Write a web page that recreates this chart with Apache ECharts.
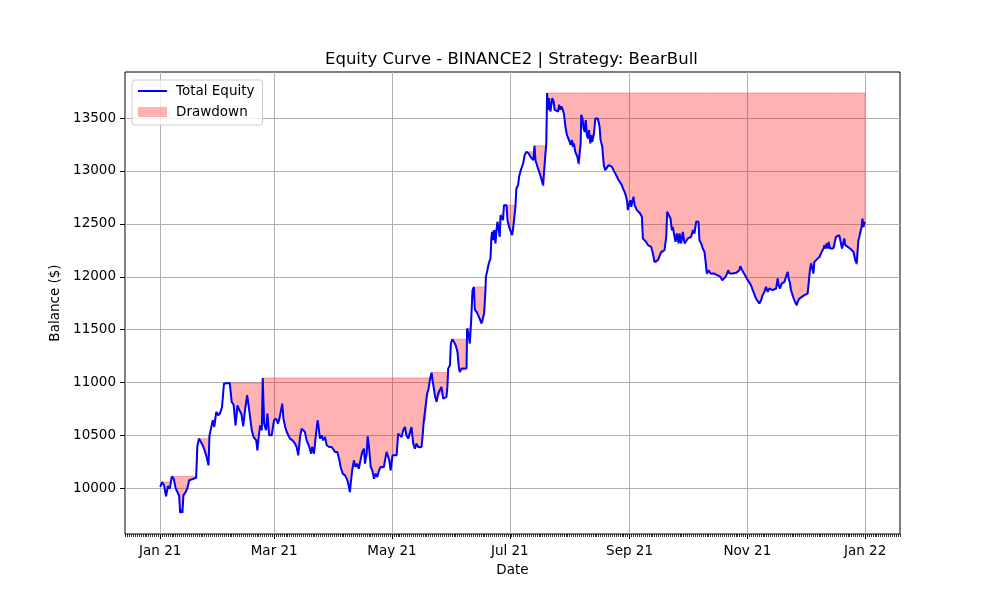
<!DOCTYPE html>
<html>
<head>
<meta charset="utf-8">
<title>Equity Curve</title>
<script src="https://cdn.jsdelivr.net/npm/echarts@6.0.0/dist/echarts.min.js"></script>
<style>
  html, body { margin: 0; padding: 0; background: #fff; }
  #chart { width: 1000px; height: 600px; }
</style>
</head>
<body>
<div id="chart"></div>
<script>
// days since 2021-01-01
var days = [
  0, 1, 2, 3, 4, 5, 6, 7, 8, 9,
  9.8, 10.3, 11, 11.5, 12, 13, 14, 15, 16, 18.6,
  19.2, 20, 21, 22, 23, 24, 25, 25.5, 26.3, 27.2,
  28, 29, 30, 31, 32, 33, 36, 37, 38, 39,
  40, 41, 42, 43, 44, 45, 46, 47.4, 48.3, 49.7,
  50.3, 50.8, 51.7, 52.6, 53.1, 53.8, 54.8, 55.5, 56.4, 57.7,
  58.9, 60, 61, 61.7, 63.2, 63.8, 64.7, 65.5, 66.4, 67.2,
  68.5, 69.8, 70.6, 71.5, 72.4, 73.2, 74.1, 74.9, 75.8, 77.2,
  78.1, 78.7, 79.6, 80.5, 81.5, 82, 82.7, 83.5, 84.4, 85.3,
  86.2, 87.5, 88.8, 89.6, 90.5, 91.7, 92.8, 93.4, 94.5, 95.7,
  96.6, 97.4, 98.2, 98.8, 99.4, 100.3, 101.1, 102, 102.8, 103.7,
  104.6, 105.5, 106, 106.9, 107.4, 108.1, 109, 109.8, 110.7, 111.5,
  112.4, 113.3, 114.1, 115, 115.8, 116.4, 117.2, 117.7, 118.6, 119.3,
  120.3, 122.4, 123.2, 124.1, 125, 125.8, 126.7, 127.5, 128.4, 129.3,
  130.1, 131, 131.9, 132.7, 133.6, 134.4, 135.3, 135.8, 136.5, 137.4,
  138.2, 138.8, 139.6, 140.5, 141, 141.7, 142.2, 143.1, 143.9, 144.8,
  145.6, 146.5, 148.2, 148.7, 149.1, 150, 150.5, 151.2, 152, 153,
  153.9, 154.6, 155.1, 156, 156.8, 158.6, 158.9, 159.6, 160.3, 161,
  161.7, 162.4, 162.9, 163.8, 164.6, 165.5, 166.3, 167.2, 167.7, 168.4,
  168.6, 169.2, 170.1, 171, 171.5, 171.8, 172.4, 172.9, 173.6, 174.1,
  174.6, 175.3, 175.8, 176.2, 177, 177.5, 178, 179.3, 179.8, 180.6,
  181.3, 182.2, 182.7, 183.2, 183.9, 184.4, 185.3, 185.8, 186.7, 187.9,
  188.7, 189.6, 190.8, 191.7, 192.5, 193.2, 193.8, 194.3, 194.8, 195.6,
  196.5, 197.3, 198.2, 198.7, 199.4, 199.9, 200.3, 200.8, 201.3, 202,
  202.5, 203, 203.7, 204.2, 205.1, 206, 206.5, 207.2, 207.7, 208.5,
  209.1, 209.8, 210.6, 211.5, 212, 212.5, 213.2, 213.7, 214.2, 214.9,
  216, 216.6, 217.2, 217.7, 218, 218.6, 219.2, 219.8, 220.3, 220.9,
  221.5, 222, 222.7, 223.2, 223.7, 224.6, 225.3, 226.6, 227.5, 228,
  228.9, 229.2, 229.7, 230.4, 231.3, 232.2, 233, 233.9, 234.7, 235.6,
  236.5, 237.3, 238.2, 239, 239.6, 240.4, 241, 241.8, 242.1, 242.7,
  243.4, 243.9, 244.4, 245.1, 245.6, 246.1, 246.8, 247.7, 248.5, 249.4,
  249.9, 250.8, 251.6, 252.5, 253.4, 254.2, 255.1, 255.9, 256.8, 257.7,
  258.5, 259.4, 260.2, 261.1, 262, 262.5, 263.4, 264.2, 264.9, 265.4,
  266.3, 266.8, 267.5, 268.4, 268.9, 269.7, 270.6, 271.5, 272.3, 273.2,
  274, 274.9, 275.8, 276.6, 277.5, 278, 278.7, 279.2, 280.1, 280.9,
  281.8, 282.3, 283, 283.3, 284, 284.9, 285.8, 286.6, 287.5, 288.4,
  289.2, 290.1, 290.9, 291.8, 292.7, 293.5, 294.2, 294.7, 296.4, 298.2,
  299, 299.9, 300.4, 301.1, 302, 302.8, 303.7, 304.2, 305.1, 305.9,
  306.8, 307.6, 308.5, 309.4, 310.2, 311.1, 311.9, 312.8, 313.7, 314.5,
  315.4, 317.1, 318.9, 319.7, 320.2, 320.9, 321.8, 323.2, 324, 324.9,
  325.4, 326.1, 326.6, 327.5, 328, 328.7, 329.6, 330, 330.9, 331.8,
  333.5, 335.2, 335.7, 336.4, 337, 337.5, 338.2, 338.7, 339.6, 341.3,
  341.8, 342.5, 343.5, 343.9, 344.4, 345, 345.6, 346.1, 346.8, 348.5,
  349.4, 349.9, 350.8, 351.6, 352.5, 353, 353.7, 354.2, 354.7, 355.4,
  357.2, 358, 358.9, 359.4, 359.9, 360.6, 361.1, 361.5, 362, 362.5,
  362.9, 363.2, 363.6, 364.1, 364.8
];

var equity = [
  10013, 10060, 10028, 9924, 10020, 9997, 10114, 10090, 10000, 9990,
  9930, 9767, 9800, 9767, 9934, 9960, 9997, 10076, 10091, 10100,
  10391, 10470, 10440, 10407, 10359, 10296, 10218, 10501, 10565, 10643,
  10580, 10722, 10691, 10710, 10769, 10990, 10996, 10817, 10790, 10596,
  10785, 10738, 10706, 10587, 10754, 10880, 10750, 10550, 10486, 10454,
  10359, 10454, 10596, 10549, 11043, 10612, 10549, 10706, 10501, 10501,
  10643, 10659, 10612, 10659, 10801, 10659, 10580, 10533, 10517, 10470,
  10454, 10423, 10391, 10312, 10486, 10565, 10580, 10533, 10454, 10391,
  10328, 10391, 10328, 10486, 10643, 10580, 10470, 10501, 10454, 10486,
  10407, 10391, 10391, 10375, 10344, 10344, 10265, 10202, 10139, 10123,
  10091, 10044, 9965, 10076, 10170, 10265, 10202, 10233, 10186, 10265,
  10344, 10375, 10233, 10328, 10492, 10391, 10202, 10170, 10091, 10139,
  10107, 10170, 10202, 10186, 10202, 10265, 10344, 10359, 10265, 10170,
  10312, 10312, 10517, 10530, 10485, 10549, 10580, 10500, 10470, 10485,
  10580, 10423, 10375, 10423, 10391, 10375, 10391, 10486, 10643, 10643,
  10896, 10927, 11022, 11094, 11022, 10943, 10880, 10817, 10896, 10880,
  10959, 10848, 10864, 10959, 11132, 11164, 11369, 11410, 11385, 11353,
  11290, 11148, 11100, 11132, 11116, 11132, 11511, 11464, 11369, 11589,
  11873, 11904, 11690, 11668, 11670, 11600, 11558, 11565, 11652, 11873,
  11999, 12046, 12125, 12173, 12378, 12425, 12346, 12441, 12315, 12441,
  12519, 12503, 12378, 12582, 12598, 12535, 12677, 12677, 12535, 12472,
  12456, 12393, 12456, 12535, 12661, 12835, 12866, 12945, 13008, 13071,
  13150, 13181, 13165, 13134, 13134, 13102, 13238, 13102, 13087, 13024,
  12977, 12929, 12866, 12850, 13150, 13260, 13737, 13578, 13688, 13562,
  13578, 13688, 13657, 13578, 13594, 13562, 13625, 13578, 13610, 13578,
  13531, 13418, 13339, 13323, 13276, 13245, 13292, 13229, 13260, 13181,
  13134, 13071, 13055, 13260, 13531, 13500, 13402, 13370, 13480, 13339,
  13307, 13386, 13260, 13339, 13276, 13354, 13496, 13496, 13418, 13292,
  13229, 13150, 13055, 13008, 13024, 13055, 13071, 13039, 13008, 12977,
  12945, 12914, 12898, 12866, 12835, 12803, 12772, 12708, 12630, 12677,
  12724, 12661, 12708, 12756, 12677, 12693, 12630, 12630, 12598, 12567,
  12362, 12346, 12330, 12299, 12299, 12283, 12220, 12141, 12125, 12157,
  12173, 12236, 12220, 12251, 12378, 12614, 12598, 12551, 12441, 12472,
  12378, 12330, 12409, 12315, 12409, 12315, 12425, 12315, 12330, 12362,
  12378, 12378, 12441, 12409, 12519, 12535, 12519, 12346, 12315, 12267,
  12236, 12157, 12031, 12015, 12062, 12031, 12015, 12031, 12046, 12015,
  12015, 11999, 11968, 11968, 11999, 12031, 12062, 12031, 12031, 12037,
  12046, 12062, 12100, 12070, 12040, 12015, 11999, 11968, 11968, 11920,
  11873, 11857, 11794, 11778, 11747, 11778, 11826, 11857, 11904, 11857,
  11889, 11873, 11889, 11984, 11920, 11889, 11936, 11952, 11999, 12046,
  11984, 11936, 11873, 11857, 11794, 11762, 11731, 11762, 11794, 11810,
  11826, 11841, 11857, 12062, 12125, 12141, 12031, 12141, 12157, 12188,
  12173, 12236, 12267, 12299, 12267, 12315, 12267, 12330, 12267, 12267,
  12283, 12378, 12393, 12393, 12378, 12267, 12283, 12362, 12299, 12283,
  12267, 12251, 12236, 12220, 12157, 12125, 12109, 12346, 12378, 12425,
  12409, 12472, 12550, 12470, 12520
];

var tickDays = [0, 59, 120, 181, 243, 304, 365];
var tickLabels = ['Jan 21', 'Mar 21', 'May 21', 'Jul 21', 'Sep 21', 'Nov 21', 'Jan 22'];
var yTicks = [10000, 10500, 11000, 11500, 12000, 12500, 13000, 13500];

if (days.length !== equity.length) console.warn('length mismatch', days.length, equity.length);

// running max -> drawdown rows [day, equity, peak]
var lineData = [], ddRows = [];
var peak = -Infinity;
for (var i = 0; i < days.length; i++) {
  peak = Math.max(peak, equity[i]);
  lineData.push([days[i], equity[i]]);
  ddRows.push([days[i], equity[i], peak]);
}

// matplotlib-like 5% margins
var xFirst = days[0], xLast = days[days.length - 1];
var xPad = (xLast - xFirst) * 0.05;
var yLo = Math.min.apply(null, equity), yHi = Math.max.apply(null, equity);
var yPad = (yHi - yLo) * 0.05;

var dailyTicks = [];
for (var d = Math.ceil(xFirst - xPad); d <= xLast + xPad; d++) dailyTicks.push(d);

// one polygon: along the running max, back along the equity
function renderDrawdown(params, api) {
  if (params.dataIndex !== 0) return null;
  var pts = [];
  for (var k = 0; k < ddRows.length; k++) pts.push(api.coord([ddRows[k][0], ddRows[k][2]]));
  for (var k2 = ddRows.length - 1; k2 >= 0; k2--) pts.push(api.coord([ddRows[k2][0], ddRows[k2][1]]));
  return {
    type: 'polygon',
    shape: { points: pts },
    style: { fill: 'rgba(255,0,0,0.3)', stroke: 'rgba(255,0,0,0.3)', lineWidth: 1 }
  };
}

var font = 'DejaVu Sans';
var chart = echarts.init(document.getElementById('chart'));

chart.setOption({
  animation: false,
  backgroundColor: '#fff',
  title: {
    text: 'Equity Curve - BINANCE2 | Strategy: BearBull',
    left: 320,
    top: 46,
    textStyle: { fontFamily: font, fontSize: 16.5, fontWeight: 'normal', color: '#000' }
  },
  legend: {
    left: 132,
    top: 80,
    orient: 'vertical',
    backgroundColor: 'rgba(255,255,255,0.8)',
    borderColor: '#cccccc',
    borderWidth: 1,
    borderRadius: 3,
    padding: [4, 8, 6, 5],
    itemGap: 7,
    itemWidth: 29,
    itemHeight: 10,
    textStyle: { fontFamily: font, fontSize: 13.5, color: '#000', padding: [0, 0, 0, 4] },
    data: [
      { name: 'Total Equity', itemStyle: { opacity: 0 }, lineStyle: { width: 2, color: '#0000ff' } },
      { name: 'Drawdown', icon: 'rect', itemStyle: { color: 'rgba(255,0,0,0.3)', borderWidth: 0 } }
    ]
  },
  grid: {
    left: 125,
    right: 100,
    top: 72,
    bottom: 66,
    show: true,
    borderColor: '#000',
    borderWidth: 1,
    backgroundColor: 'transparent'
  },
  xAxis: [
    {
      type: 'value',
      min: xFirst - xPad,
      max: xLast + xPad,
      name: 'Date',
      nameLocation: 'middle',
      nameGap: 29,
      nameTextStyle: { fontFamily: font, fontSize: 13.5, color: '#000', verticalAlign: 'top' },
      axisLine: { show: false, onZero: false },
      axisTick: { show: true, length: 5, customValues: tickDays, lineStyle: { color: '#000' } },
      axisLabel: {
        customValues: tickDays,
        margin: 10,
        fontFamily: font,
        fontSize: 13.5,
        color: '#000',
        formatter: function (v) {
          var k = tickDays.indexOf(Math.round(v));
          return k >= 0 ? tickLabels[k] : '';
        }
      },
      splitLine: { show: true, lineStyle: { color: '#b0b0b0', width: 1 } }
    },
    {
      type: 'value',
      position: 'bottom',
      min: xFirst - xPad,
      max: xLast + xPad,
      axisLine: { show: false, onZero: false },
      axisTick: { show: true, length: 3, customValues: dailyTicks, lineStyle: { color: '#000', width: 0.8 } },
      axisLabel: { show: false },
      splitLine: { show: false }
    }
  ],
  yAxis: {
    type: 'value',
    min: yLo - yPad,
    max: yHi + yPad,
    name: 'Balance ($)',
    nameLocation: 'middle',
    nameGap: 49,
    nameTextStyle: { fontFamily: font, fontSize: 13.5, color: '#000' },
    axisLine: { show: false, onZero: false },
    axisTick: { show: true, length: 5, customValues: yTicks, lineStyle: { color: '#000' } },
    axisLabel: {
      customValues: yTicks,
      margin: 9,
      fontFamily: font,
      fontSize: 13.5,
      color: '#000',
      formatter: function (v) { return String(v); }
    },
    splitLine: { show: true, lineStyle: { color: '#b0b0b0', width: 1 } }
  },
  series: [
    {
      name: 'Drawdown',
      type: 'custom',
      data: ddRows,
      encode: { x: 0, y: [1, 2] },
      renderItem: renderDrawdown,
      clip: true,
      silent: true,
      color: 'rgba(255,0,0,0.3)',
      z: 2
    },
    {
      name: 'Total Equity',
      type: 'line',
      data: lineData,
      symbol: 'none',
      color: '#0000ff',
      lineStyle: { width: 2, color: '#0000ff' },
      z: 3
    }
  ]
});
</script>
</body>
</html>
